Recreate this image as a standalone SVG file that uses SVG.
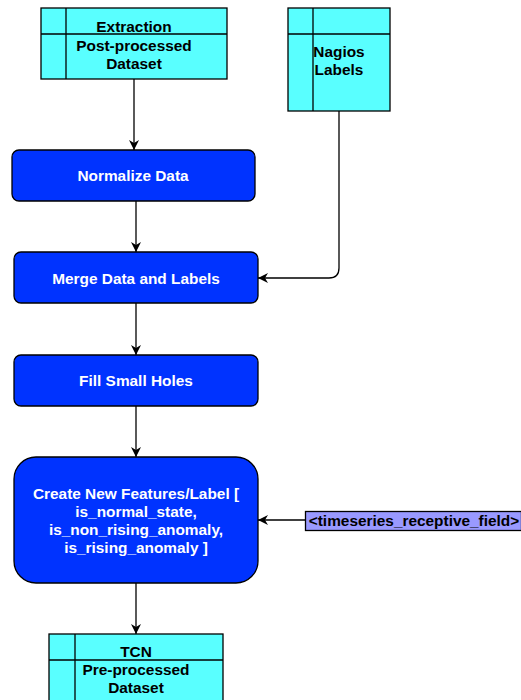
<svg xmlns="http://www.w3.org/2000/svg" width="521" height="700" viewBox="0 0 521 700">
<defs>
<marker id="arr" viewBox="0 0 10 10" refX="10" refY="5" markerWidth="10" markerHeight="10" markerUnits="userSpaceOnUse" orient="auto">
<path d="M0,0 L10,5 L0,10 L3,5 Z" fill="#000"/>
</marker>
<style>
.data{fill:#59ffff;stroke:#000;stroke-width:1.3}
.proc{fill:#0033ff;stroke:#000;stroke-width:1.3}
.line{stroke:#000;stroke-width:1.3;fill:none}
.conn{stroke:#000;stroke-width:1.3;fill:none;marker-end:url(#arr)}
.dt{font-family:"Liberation Sans",Arial,sans-serif;font-weight:bold;font-size:15.4px;fill:#000;text-anchor:middle}
.pt{font-family:"Liberation Sans",Arial,sans-serif;font-weight:bold;font-size:15.4px;fill:#fff;text-anchor:middle}
</style>
</defs>
<g id="connectors">
<path class="conn" d="M134,79 L134,150"/>
<path class="conn" d="M136,201 L136,252"/>
<path class="conn" d="M339,111 L339,268 Q339,278 329,278 L258,278"/>
<path class="conn" d="M136,303 L136,355"/>
<path class="conn" d="M136,406 L136,457"/>
<path class="conn" d="M136,583 L136,634"/>
<path class="conn" d="M305,520 L258,520"/>
</g>
<g id="extraction">
<rect class="data" x="41" y="8" width="186" height="71"/>
<line class="line" x1="66" y1="8" x2="66" y2="79"/>
<line class="line" x1="41" y1="34" x2="227" y2="34"/>
<text class="dt" x="134" y="32">Extraction</text>
<text class="dt" x="134" y="51">Post-processed</text>
<text class="dt" x="134" y="69">Dataset</text>
</g>
<g id="nagios">
<rect class="data" x="288" y="8" width="102" height="103"/>
<line class="line" x1="313" y1="8" x2="313" y2="111"/>
<line class="line" x1="288" y1="34" x2="390" y2="34"/>
<text class="dt" x="339" y="57">Nagios</text>
<text class="dt" x="339" y="75">Labels</text>
</g>
<g id="normalize">
<rect class="proc" x="12" y="150" width="243" height="51" rx="7"/>
<text class="pt" x="133" y="181">Normalize Data</text>
</g>
<g id="merge">
<rect class="proc" x="14" y="252" width="244" height="51" rx="7"/>
<text class="pt" x="136" y="284">Merge Data and Labels</text>
</g>
<g id="fill">
<rect class="proc" x="14" y="355" width="244" height="51" rx="7"/>
<text class="pt" x="136" y="386">Fill Small Holes</text>
</g>
<g id="create">
<rect class="proc" x="14" y="457" width="244" height="126" rx="22"/>
<text class="pt" x="136" y="499">Create New Features/Label [</text>
<text class="pt" x="136" y="517">is_normal_state,</text>
<text class="pt" x="136" y="535">is_non_rising_anomaly,</text>
<text class="pt" x="136" y="553">is_rising_anomaly ]</text>
</g>
<g id="receptive">
<rect x="305.5" y="511.5" width="216" height="19" fill="#9999ff" stroke="#000" stroke-width="1.3"/>
<text class="dt" x="414" y="526">&lt;timeseries_receptive_field&gt;</text>
</g>
<g id="tcn">
<rect class="data" x="49" y="634" width="174" height="70"/>
<line class="line" x1="75" y1="634" x2="75" y2="700"/>
<line class="line" x1="49" y1="660" x2="223" y2="660"/>
<text class="dt" x="136" y="657">TCN</text>
<text class="dt" x="136" y="675">Pre-processed</text>
<text class="dt" x="136" y="693">Dataset</text>
</g>
</svg>
